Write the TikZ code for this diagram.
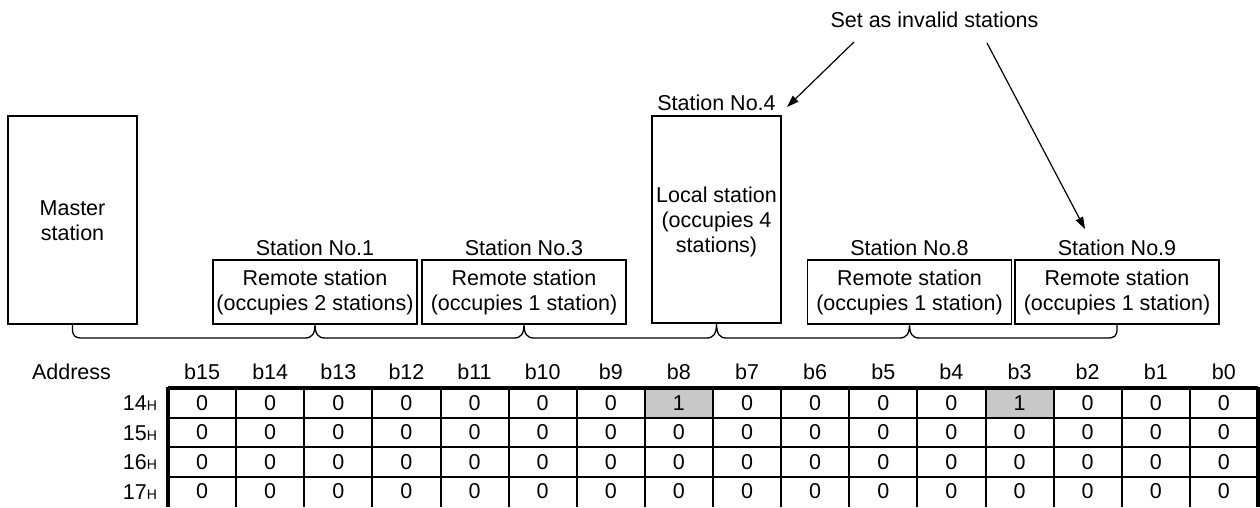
\documentclass[tikz,border=0pt]{standalone}
\usepackage{fontspec}
\setmainfont{Liberation Sans}
\usetikzlibrary{arrows.meta}
\definecolor{cellgray}{RGB}{200,200,200}
\begin{document}
\begin{tikzpicture}[x=1pt,y=-1pt,
  every node/.style={font=\fontsize{21.5}{25}\selectfont, inner sep=0pt, outer sep=0pt},
  box/.style={draw, line width=1.3pt, align=center},
  remote/.style={box, minimum width=204pt, minimum height=64pt},
  brc/.style={line width=1.3pt},
  ptr/.style={line width=1.2pt, -{Triangle[length=12pt,width=8pt]}},
  thin/.style={line width=2pt},
  thick/.style={line width=3.5pt}
]
\useasboundingbox (0,0) rectangle (1260,507);

% stations
\node[box, minimum width=129pt, minimum height=208pt] (master) at (72.5,220) {};
\node[align=center] (mastertxt) at (72.5,221) {Master\\station};

\node[box, minimum width=129pt, minimum height=207pt] (loc) at (716.5,219.5) {};
\node[align=center] (loctxt) at (716.5,221.5) {Local station\\(occupies 4\\stations)};
\node (l4) at (716.5,103) {Station No.4};

\node[remote] (r1) at (315,292) {Remote station\\(occupies 2 stations)};
\node[remote] (r3) at (524,292) {Remote station\\(occupies 1 station)};
\node[remote] (r8) at (909.5,292) {Remote station\\(occupies 1 station)};
\node[remote] (r9) at (1117,292) {Remote station\\(occupies 1 station)};
\node (l1) at (315,248) {Station No.1};
\node (l3) at (524,248) {Station No.3};
\node (l8) at (909.5,248) {Station No.8};
\node (l9) at (1117,248) {Station No.9};

% brace
\draw[brc] (master.south)
  -- ([shift={(0,4)}]master.south)
  .. controls ([shift={(0,12)}]master.south) and ([shift={(2,14)}]master.south) .. ([shift={(10,14)}]master.south)
  -- ([shift={(-10,14)}]r1.south)
  .. controls ([shift={(-3,14)}]r1.south) and ([shift={(0,10)}]r1.south) .. (r1.south)
  .. controls ([shift={(0,10)}]r1.south) and ([shift={(3,14)}]r1.south) .. ([shift={(10,14)}]r1.south)
  -- ([shift={(-10,14)}]r3.south)
  .. controls ([shift={(-3,14)}]r3.south) and ([shift={(0,10)}]r3.south) .. (r3.south)
  .. controls ([shift={(0,10)}]r3.south) and ([shift={(3,14)}]r3.south) .. ([shift={(10,14)}]r3.south)
  -- ([shift={(-10,15)}]loc.south)
  .. controls ([shift={(-3,15)}]loc.south) and ([shift={(0,11)}]loc.south) .. (loc.south)
  .. controls ([shift={(0,11)}]loc.south) and ([shift={(3,15)}]loc.south) .. ([shift={(10,15)}]loc.south)
  -- ([shift={(-10,14)}]r8.south)
  .. controls ([shift={(-3,14)}]r8.south) and ([shift={(0,10)}]r8.south) .. (r8.south)
  .. controls ([shift={(0,10)}]r8.south) and ([shift={(3,14)}]r8.south) .. ([shift={(10,14)}]r8.south)
  -- ([shift={(-10,14)}]r9.south)
  .. controls ([shift={(-2,14)}]r9.south) and ([shift={(0,12)}]r9.south) .. ([shift={(0,4)}]r9.south)
  -- (r9.south);

% invalid stations
\node (inv) at (934.5,20) {Set as invalid stations};
\coordinate (a1s) at (854,42);
\coordinate (a1e) at (787,107);
\coordinate (a2s) at (987,43);
\coordinate (a2e) at (1085,229);
\draw[ptr] (a1s) -- (a1e);
\draw[ptr] (a2s) -- (a2e);

% table
\def\cw{68.125}
\def\tl{168}
\def\tt{388}
\def\rh{29.5}
\fill[cellgray] (\tl+7*\cw,\tt) rectangle (\tl+8*\cw,\tt+\rh);
\fill[cellgray] (\tl+12*\cw,\tt) rectangle (\tl+13*\cw,\tt+\rh);

\node (addr) at (71.5,372) {Address};
\foreach \i in {0,...,15}{
  \pgfmathtruncatemacro{\b}{15-\i}
  \node (h\i) at (\tl+\i*\cw+0.5*\cw,372) {b\b};
}
\foreach \j/\lab in {0/14,1/15,2/16,3/17}{
  \node[anchor=base east] (row\j) at (157,\tt+\j*\rh+0.5*\rh+8) {\lab{\fontsize{14}{14}\selectfont H}};
  \foreach \i in {0,...,15}{
    \pgfmathtruncatemacro{\v}{(\j==0 && (\i==7 || \i==12)) ? 1 : 0}
    \node (c\j-\i) at (\tl+\i*\cw+0.5*\cw,\tt+\j*\rh+0.5*\rh) {\v};
  }
}
\foreach \i in {1,...,15}{
  \draw[thin] (\tl+\i*\cw,\tt) -- (\tl+\i*\cw,507);
}
\foreach \j in {1,2,3}{
  \draw[thin] (\tl,\tt+\j*\rh) -- (\tl+16*\cw,\tt+\j*\rh);
}
\draw[thick] (\tl,\tt) -- (\tl+16*\cw,\tt);
\draw[line width=4pt] (\tl,\tt-1.5) -- (\tl,507);
\draw[thick] (\tl+16*\cw,\tt-1.5) -- (\tl+16*\cw,507);
\end{tikzpicture}
\end{document}
